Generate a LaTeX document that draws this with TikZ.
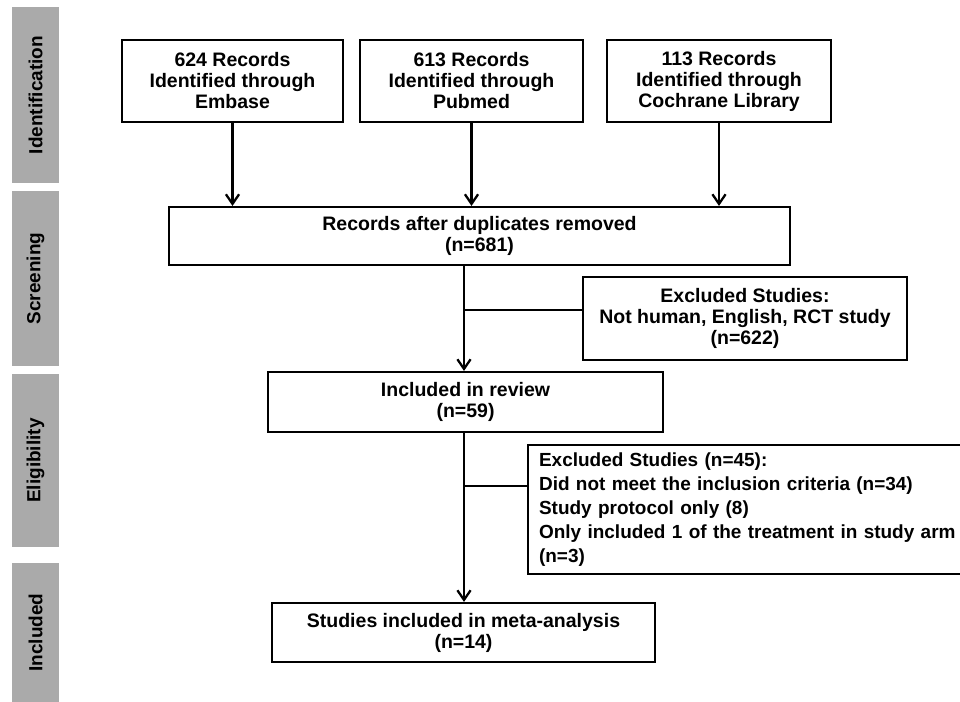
\documentclass[tikz,border=0pt]{standalone}
\usepackage{fontspec}
\setmainfont{Liberation Sans}
\usetikzlibrary{arrows.meta,positioning}
\definecolor{bargray}{RGB}{170,170,170}
\begin{document}
\begin{tikzpicture}[x=0.02cm, y=-0.02cm,
  box/.style={draw, line width=1.2pt, align=center, inner sep=0pt,
    font=\fontsize{11.1}{11.95}\selectfont\bfseries},
  phase/.style={fill=bargray, rotate=90, inner sep=0pt, minimum height=0.94cm,
    font=\fontsize{10.8}{12}\selectfont\bfseries},
  arr/.style={line width=1.3pt, -{Straight Barb[length=5.5pt,width=7.5pt,line width=1.3pt]}},
  link/.style={line width=1.3pt}]
\clip (0,0) rectangle (960,702);
% phases
\node[phase, minimum width=3.52cm] (ident) at (35.5,95) {Identification};
\node[phase, minimum width=3.50cm] (screen) at (35.5,278.5) {Screening};
\node[phase, minimum width=3.46cm] (elig) at (35.5,460.5) {Eligibility};
\node[phase, minimum width=2.78cm] (incl) at (35.5,632.5) {Included};
% sources
\node[box, minimum width=4.42cm, minimum height=1.64cm] (embase) at (232.5,81) {624 Records\\Identified through\\Embase};
\node[box, minimum width=4.46cm, minimum height=1.64cm] (pubmed) at (471.5,81) {613 Records\\Identified through\\Pubmed};
\node[box, minimum width=4.48cm, minimum height=1.64cm] (cochrane) at (719,81) {113 Records\\Identified through\\Cochrane Library};
% flow
\node[box, minimum width=12.42cm, minimum height=1.16cm] (dup) at (479.5,236) {Records after duplicates removed\\(n=681)};
\node[box, minimum width=6.48cm, minimum height=1.66cm] (excl1) at (745,318.5) {Excluded Studies:\\Not human, English, RCT study\\(n=622)};
\node[box, minimum width=7.9cm, minimum height=1.2cm] (review) at (465.5,402) {Included in review\\(n=59)};
\node[box, anchor=west, align=left, text width=9cm, inner xsep=0.22cm, minimum height=2.58cm,
  font=\fontsize{10.8}{13.66}\selectfont\bfseries] (excl2) at (527,509.5) {Excluded Studies (n=45):\\Did not meet the inclusion criteria (n=34)\\Study protocol only (8)\\Only included 1 of the treatment in study arm\\(n=3)};
\node[box, minimum width=7.66cm, minimum height=1.18cm] (studies) at (463.5,632.5) {Studies included in meta-analysis\\(n=14)};
\coordinate (spine) at (464,0);
\coordinate (b1) at (464,310);
\coordinate (b2) at (464,486);
% connectors
\draw[arr] (embase.south) -- (embase.south |- dup.north);
\draw[arr] (pubmed.south) -- (pubmed.south |- dup.north);
\draw[arr] (cochrane.south) -- (cochrane.south |- dup.north);
\draw[arr] (dup.south -| spine) -- (review.north -| spine);
\draw[link] (b1) -- (b1 -| excl1.west);
\draw[arr] (review.south -| spine) -- (studies.north -| spine);
\draw[link] (b2) -- (b2 -| excl2.west);
\end{tikzpicture}
\end{document}
